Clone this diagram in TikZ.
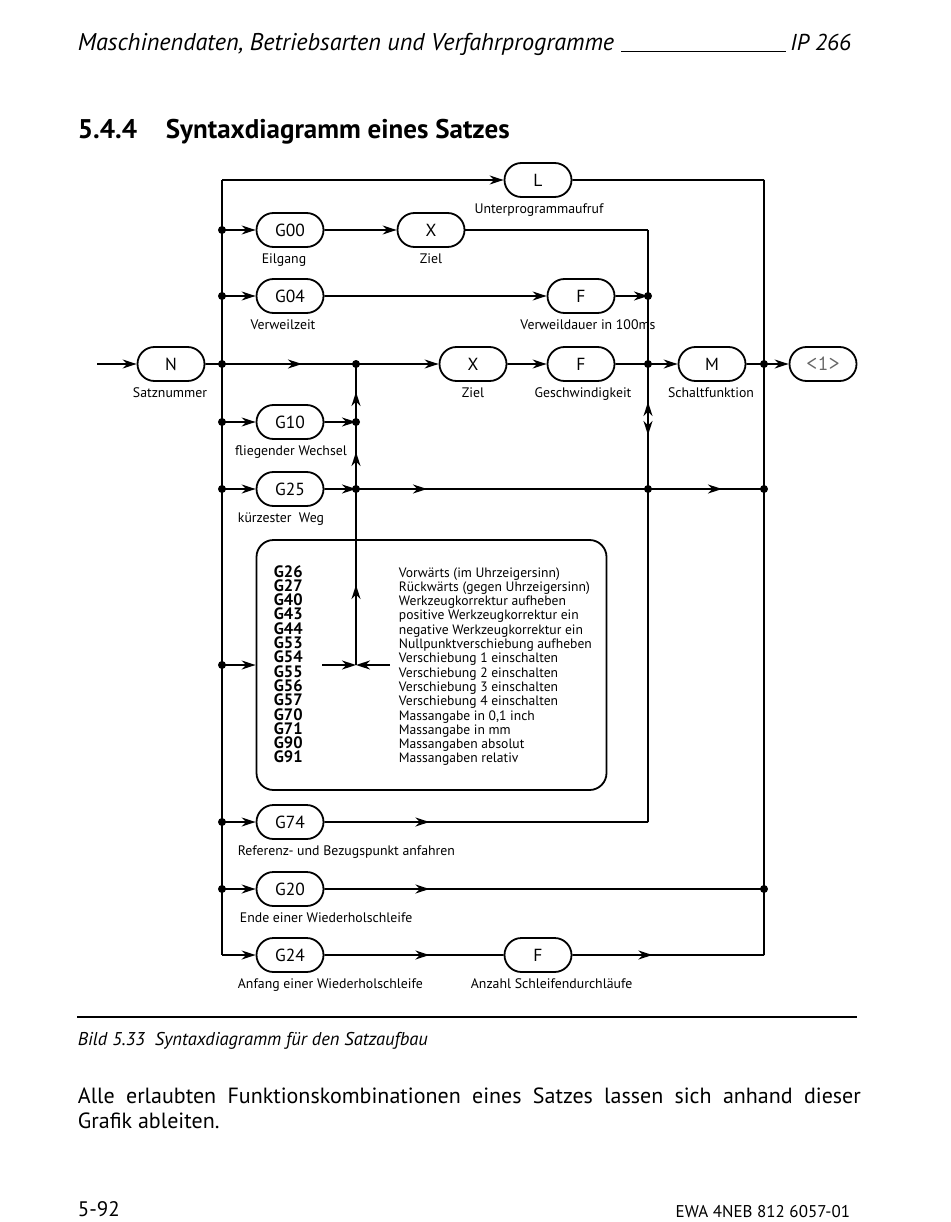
\documentclass[tikz,border=0pt]{standalone}
\usepackage{fontspec}
\setmainfont{PT Sans}
\newfontfamily\monof{Latin Modern Mono}
\usetikzlibrary{arrows.meta,decorations.markings,shapes.misc}
\begin{document}
\begin{tikzpicture}[x=1pt,y=-1pt,line width=1.8pt,
  >={Stealth[length=14pt,width=9pt,inset=4.5pt]},
  term/.style={draw,rounded rectangle,minimum width=67pt,minimum height=34pt,inner sep=0pt,font=\fontsize{17.5}{17.5}\selectfont},
  lbl/.style={font=\fontsize{13.8}{13.8}\selectfont,anchor=base,inner sep=0pt},
  lblw/.style={lbl,anchor=base west},
  arrat/.style={postaction={decorate},decoration={markings,mark=at position #1 with {\arrow{>}}}},
  dotc/.style={fill=black,draw=none}]
\useasboundingbox (0,0) rectangle (950,1222);
% header
\node[anchor=base west,inner sep=0pt,font=\fontsize{24.2}{24}\selectfont\itshape] (hd) at (77,51) {Maschinendaten, Betriebsarten und Verfahrprogramme};
\node[anchor=base east,inner sep=0pt,font=\fontsize{23}{24}\selectfont\itshape] (ip) at (852,51) {IP 266};
\draw[line width=1pt] (621,52) -- (786,52);
% title
\node[anchor=base west,inner sep=0pt,font=\fontsize{27}{27}\selectfont\bfseries] (t1) at (77,139) {5.4.4};
\node[anchor=base west,inner sep=0pt,font=\fontsize{27}{27}\selectfont\bfseries] (t2) at (165,139) {Syntaxdiagramm eines Satzes};
% coordinates
\foreach \n/\y in {0/180,1/230,2/296,3/364,4/422,5/489,6/665,7/822,8/889,9/955}{
  \coordinate (L\n) at (222,\y);}
\foreach \n/\y in {0/180,3/364,5/489,8/889,9/955}{
  \coordinate (R\n) at (764,\y);}
\foreach \n/\y in {1/230,2/296,3/364,5/489,7/822}{
  \coordinate (I\n) at (648,\y);}
\foreach \n/\y in {3/364,4/422,5/489,6/665}{
  \coordinate (V\n) at (356,\y);}
\coordinate (in) at (97,364);
\coordinate (BL) at (322,665);
\coordinate (BR) at (390,665);
% nodes
\node[term] (L) at (538,180) {L};
\node[term] (G00) at (290,230) {G00};
\node[term] (X1) at (431,230) {X};
\node[term] (G04) at (290,296) {G04};
\node[term] (F1) at (581,296) {F};
\node[term] (N) at (171,364) {N};
\node[term] (X2) at (473,364) {X};
\node[term] (F2) at (581,364) {F};
\node[term] (M) at (712,364) {M};
\node[term] (One) at (823,364) {\fontsize{22}{22}\monof\color[gray]{0.4}<1>};
\node[term] (G10) at (290,422) {G10};
\node[term] (G25) at (290,489) {G25};
\node[term] (G74) at (290,822) {G74};
\node[term] (G20) at (290,889) {G20};
\node[term] (G24) at (290,955) {G24};
\node[term] (F3) at (538,955) {F};
% labels
\node[lbl] (lL) at (539,213.5) {Unterprogrammaufruf};
\node[lbl] (lG00) at (284,263.5) {Eilgang};
\node[lbl] (lX1) at (431,263.5) {Ziel};
\node[lbl] (lG04) at (283,329.5) {Verweilzeit};
\node[lbl] (lF1) at (588,329.5) {Verweildauer in 100ms};
\node[lbl] (lN) at (170,397.5) {Satznummer};
\node[lbl] (lX2) at (473,397.5) {Ziel};
\node[lbl] (lF2) at (583,397.5) {Geschwindigkeit};
\node[lbl] (lM) at (711,397.5) {Schaltfunktion};
\node[lbl] (lG10) at (291,455.5) {fliegender Wechsel};
\node[lbl] (lG25) at (281,522.5) {kürzester\ \ Weg};
\node[lblw] (lG74) at (237,855.5) {Referenz- und Bezugspunkt anfahren};
\node[lblw] (lG20) at (239,922.5) {Ende einer Wiederholschleife};
\node[lblw] (lG24) at (237,988.5) {Anfang einer Wiederholschleife};
\node[lblw] (lF3) at (470,988.5) {Anzahl Schleifendurchläufe};
% box
\node[draw,rounded corners=17pt,minimum width=350pt,minimum height=250pt,inner sep=0pt] (box) at (431.5,665) {};
\foreach \c/\d [count=\i from 0] in {G26/Vorwärts (im Uhrzeigersinn),G27/Rückwärts (gegen Uhrzeigersinn),G40/Werkzeugkorrektur aufheben,G43/positive Werkzeugkorrektur ein,G44/negative Werkzeugkorrektur ein,G53/Nullpunktverschiebung aufheben,G54/Verschiebung 1 einschalten,G55/Verschiebung 2 einschalten,G56/Verschiebung 3 einschalten,G57/Verschiebung 4 einschalten,G70/{Massangabe in 0,1 inch},G71/Massangabe in mm,G90/Massangaben absolut,G91/Massangaben relativ}{
  \node[anchor=base west,inner sep=0pt,font=\fontsize{16.5}{16}\selectfont\bfseries] (c\i) at (273,577+14.3*\i) {\c};
  \node[anchor=base west,inner sep=0pt,font=\fontsize{13.6}{13}\selectfont] (d\i) at (398,577+14.3*\i) {\d};
}
% buses
\draw (L0) -- (L9);
\draw (R0) -- (R9);
\draw[postaction={decorate},decoration={markings,
   mark=at position 172pt with {\arrowreversed{>}},
   mark=at position 205pt with {\arrow{>}}}] (I1) -- (I7);
% vertical at 356
\draw[arrat=80pt] (V6) -- (V5);
\draw[arrat=37pt] (V5) -- (V4);
\draw[arrat=30pt] (V4) -- (V3);
% row 180
\draw[->] (L0) -- (L);
\draw (L) -- (R0);
% row 230
\draw[->] (L1) -- (G00);
\draw[->] (G00) -- (X1);
\draw (X1.east) -- (I1);
% row 296
\draw[->] (L2) -- (G04);
\draw[->] (G04) -- (F1);
\draw[->] (F1) -- (I2);
% row 364
\draw[->] (in) -- (N);
\draw (N) -- (L3);
\draw[arrat=80pt] (L3) -- (V3);
\draw[->] (V3) -- (X2);
\draw[->] (X2) -- (F2);
\draw (F2) -- (I3);
\draw[->] (I3) -- (M);
\draw (M) -- (R3);
\draw[->] (R3) -- (One);
% row 422
\draw[->] (L4) -- (G10);
\draw[->] (G10) -- (V4);
% row 489
\draw[->] (L5) -- (G25);
\draw[->] (G25) -- (V5);
\draw[arrat=71pt] (V5) -- (I5);
\draw[arrat=74pt] (I5) -- (R5);
% row 665
\draw[->] (L6) -- (box.west);
\draw[->] (BL) -- (V6);
\draw[->] (BR) -- (V6);
% row 822
\draw[->] (L7) -- (G74);
\draw[arrat=105pt] (G74) -- (I7);
% row 889
\draw[->] (L8) -- (G20);
\draw[arrat=105pt] (G20) -- (R8);
% row 955
\draw[->] (L9) -- (G24);
\draw[arrat=105pt] (G24) -- (F3);
\draw[arrat=80pt] (F3) -- (R9);
% dots
\foreach \p in {L1,L2,L3,L4,L5,L6,L7,L8,R3,R5,R8,I2,I3,I5,V3,V4,V5}{
  \fill[dotc] (\p) circle (4pt);}
% bottom
\draw[line width=1.8pt] (77,1017) -- (857,1017);
\node[anchor=base west,inner sep=0pt,font=\fontsize{18.5}{18}\selectfont\itshape] (cap) at (77,1045) {Bild 5.33\ \ Syntaxdiagramm für den Satzaufbau};
\node[anchor=base west,inner sep=0pt,font=\fontsize{22}{22}\selectfont] (body1) at (77,1103) {\makebox[783pt][s]{Alle erlaubten Funktionskombinationen eines Satzes lassen sich anhand dieser}};
\node[anchor=base west,inner sep=0pt,font=\fontsize{22}{22}\selectfont] (body2) at (77,1128) {Grafik ableiten.};
\node[anchor=base west,inner sep=0pt,font=\fontsize{21}{21}\selectfont] (pg) at (77,1216) {5-92};
\node[anchor=base east,inner sep=0pt,font=\fontsize{17}{17}\selectfont] (doc) at (851,1217) {EWA 4NEB 812 6057-01};
\end{tikzpicture}
\end{document}
